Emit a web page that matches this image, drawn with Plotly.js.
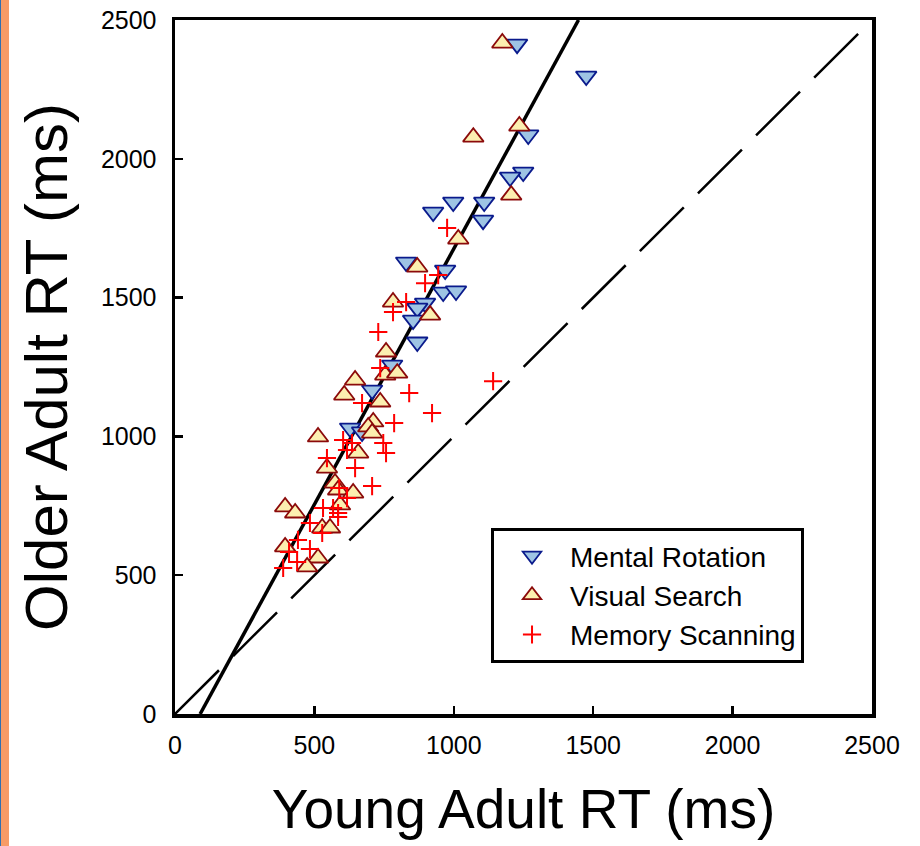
<!DOCTYPE html>
<html>
<head>
<meta charset="utf-8">
<script src="https://cdn.plot.ly/plotly-3.0.1.min.js"></script>
<style>
  html, body { margin: 0; padding: 0; background: #ffffff; }
  #chart { position: absolute; left: 0; top: 0; width: 920px; height: 846px; }
  #bar { position: absolute; left: 0; top: 0; width: 8px; height: 846px; background: #F79B66; border-left: 1px solid #2F6FB0; z-index: 5; }
</style>
</head>
<body>
<div id="chart"></div>
<div id="bar"></div>
<script>
// ---- Data ----
const seriesNames = ["Mental Rotation", "Visual Search", "Memory Scanning"];

const mentalX = [1227, 1475, 1267, 1249, 1202, 926, 998, 1109, 1105, 829, 969, 962, 1008, 897, 869, 854, 869, 779, 707, 628, 671];
const mentalY = [2413, 2298, 2086, 1952, 1934, 1808, 1844, 1844, 1779, 1628, 1599, 1520, 1524, 1480, 1462, 1419, 1340, 1257, 1167, 1030, 1016];

const searchX = [1174, 1235, 1070, 1206, 1016, 869, 782, 915, 757, 754, 797, 646, 607, 736, 711, 693, 707, 513, 657, 545, 574, 585, 639, 592, 395, 431, 528, 556, 395, 513, 474];
const searchY = [2417, 2118, 2078, 1869, 1711, 1610, 1484, 1437, 1304, 1221, 1228, 1203, 1149, 1124, 1052, 1034, 1012, 998, 940, 886, 832, 807, 796, 753, 746, 724, 670, 670, 602, 562, 530];

const memX = [1141, 922, 976, 897, 944, 829, 782, 729, 736, 840, 671, 786, 603, 635, 617, 747, 757, 545, 646, 707, 589, 617, 531, 567, 585, 585, 484, 528, 441, 484, 409, 438, 388];
const memY = [1199, 1084, 1751, 1552, 1581, 1484, 1448, 1376, 1246, 1156, 1120, 1048, 987, 976, 951, 976, 940, 922, 886, 821, 814, 778, 742, 742, 724, 710, 688, 652, 627, 594, 584, 548, 526];

// Fitted regression line (older = slope * young + intercept) and identity line
const fitSlope = 1.842;
const fitIntercept = -166;
const axisRange = [0, 2500];
const tickVals = [0, 500, 1000, 1500, 2000, 2500];
const tickText = ["0", "500", "1000", "1500", "2000", "2500"];

const fitY = axisRange.slice();
const fitX = fitY.map(y => (y - fitIntercept) / fitSlope);
const identX = axisRange.slice();
const identY = axisRange.slice();

const FONT = "Liberation Sans, Arial, sans-serif";

const traces = [
  { x: identX, y: identY, mode: "lines", showlegend: false, hoverinfo: "skip",
    line: { color: "#000000", width: 2.5, dash: "62px,20px" } },
  { x: fitX, y: fitY, mode: "lines", showlegend: false, hoverinfo: "skip",
    line: { color: "#000000", width: 3.5 } },
  { x: mentalX, y: mentalY, mode: "markers", name: seriesNames[0],
    marker: { symbol: "triangle-down", size: 18, color: "#9EC4E4",
              line: { color: "#0A1A8C", width: 1.8 } } },
  { x: searchX, y: searchY, mode: "markers", name: seriesNames[1],
    marker: { symbol: "triangle-up", size: 18, color: "#FCEFB0",
              line: { color: "#8B0A0A", width: 1.8 } } },
  { x: memX, y: memY, mode: "markers", name: seriesNames[2],
    marker: { symbol: "cross-thin", size: 13, color: "#FF0000",
              line: { color: "#FF0000", width: 2 } } }
];

const axisCommon = {
  range: axisRange, tickmode: "array", tickvals: tickVals, ticktext: tickText,
  showgrid: false, zeroline: false, showline: true, mirror: true,
  linecolor: "#000000", linewidth: 3.5,
  ticks: "inside", ticklen: 8, tickwidth: 2.5, tickcolor: "#000000",
  tickfont: { family: FONT, size: 25, color: "#000000" }
};

const layout = {
  width: 920, height: 846,
  margin: { l: 175, r: 48, t: 20, b: 132 },
  paper_bgcolor: "#ffffff", plot_bgcolor: "#ffffff",
  font: { family: FONT, color: "#000000" },
  xaxis: Object.assign({}, axisCommon, {
    ticklabelstandoff: 6,
    title: { text: "Young Adult RT (ms)", font: { family: FONT, size: 55, color: "#000000" }, standoff: 33 }
  }),
  yaxis: Object.assign({}, axisCommon, {
    ticklabelstandoff: 10,
    title: { text: "Older Adult RT (ms)", font: { family: FONT, size: 60, color: "#000000" }, standoff: 15 }
  }),
  legend: {
    x: 0.4534, y: 0.268, xanchor: "left", yanchor: "top",
    bgcolor: "#ffffff", bordercolor: "#000000", borderwidth: 3,
    font: { family: FONT, size: 28, color: "#000000" },
    itemwidth: 66, itemsizing: "trace"
  },
  showlegend: true
};

Plotly.newPlot("chart", traces, layout, { displayModeBar: false, staticPlot: true });
</script>
</body>
</html>
